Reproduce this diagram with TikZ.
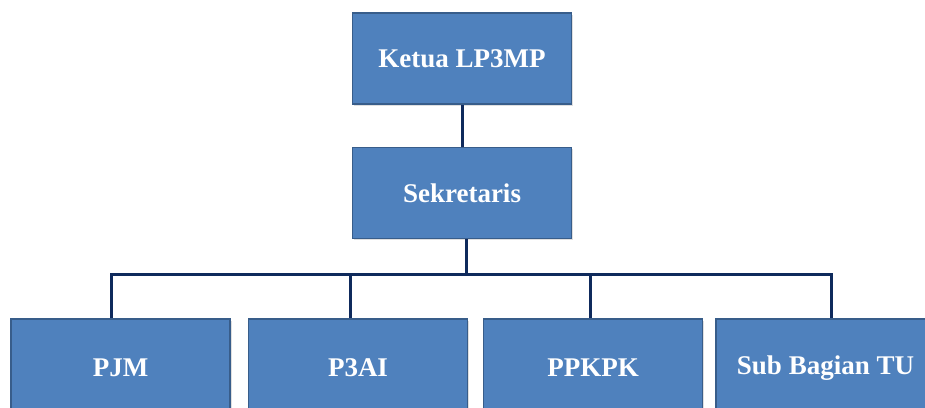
\documentclass[tikz,border=0pt]{standalone}
\usepackage{fontspec}
\setmainfont{Liberation Serif}
\usetikzlibrary{shadows}
\definecolor{boxfill}{HTML}{4F81BD}
\definecolor{boxline}{HTML}{385D8A}
\definecolor{connline}{HTML}{0F2A5C}
\tikzset{
  orgbox/.style={draw=boxline, line width=1.6pt, fill=boxfill, minimum width=219pt, minimum height=#1, inner sep=0pt,
    text=white, font=\fontsize{27}{32}\selectfont\bfseries,
    drop shadow={shadow xshift=1.5pt, shadow yshift=-1.5pt, opacity=0.25}},
  orgbox/.default=91pt,
  conn/.style={draw=connline, line width=3pt}
}
\begin{document}
\begin{tikzpicture}[x=1pt,y=-1pt]
\useasboundingbox (0,0) rectangle (925,407);
\clip (0,0) rectangle (925,407);
\fill[white] (0,0) rectangle (925,407);
\node[orgbox] (ketua) at (462,58.5) {Ketua LP3MP};
\node[orgbox] (sek) at (462,193) {Sekretaris};
\node[orgbox=98pt] (pjm) at (120.5,368) {PJM};
\node[orgbox=98pt] (p3ai) at (358,368) {P3AI};
\node[orgbox=98pt] (ppkpk) at (593,368) {PPKPK};
\node[orgbox=98pt] (tu) at (825.5,368) {Sub Bagian TU};
\coordinate (bar) at (466,274);
\draw[conn] (ketua.south) -- (sek.north);
\draw[conn] ([xshift=4pt]sek.south) -- ([xshift=4pt]sek.south |- bar);
\draw[conn] ([xshift=-9.5pt]pjm.north) |- (bar) -| ([xshift=5.5pt]tu.north);
\draw[conn] ([xshift=-8pt]p3ai.north) -- ([xshift=-8pt]p3ai.north |- bar);
\draw[conn] ([xshift=-3pt]ppkpk.north) -- ([xshift=-3pt]ppkpk.north |- bar);
\end{tikzpicture}
\end{document}
